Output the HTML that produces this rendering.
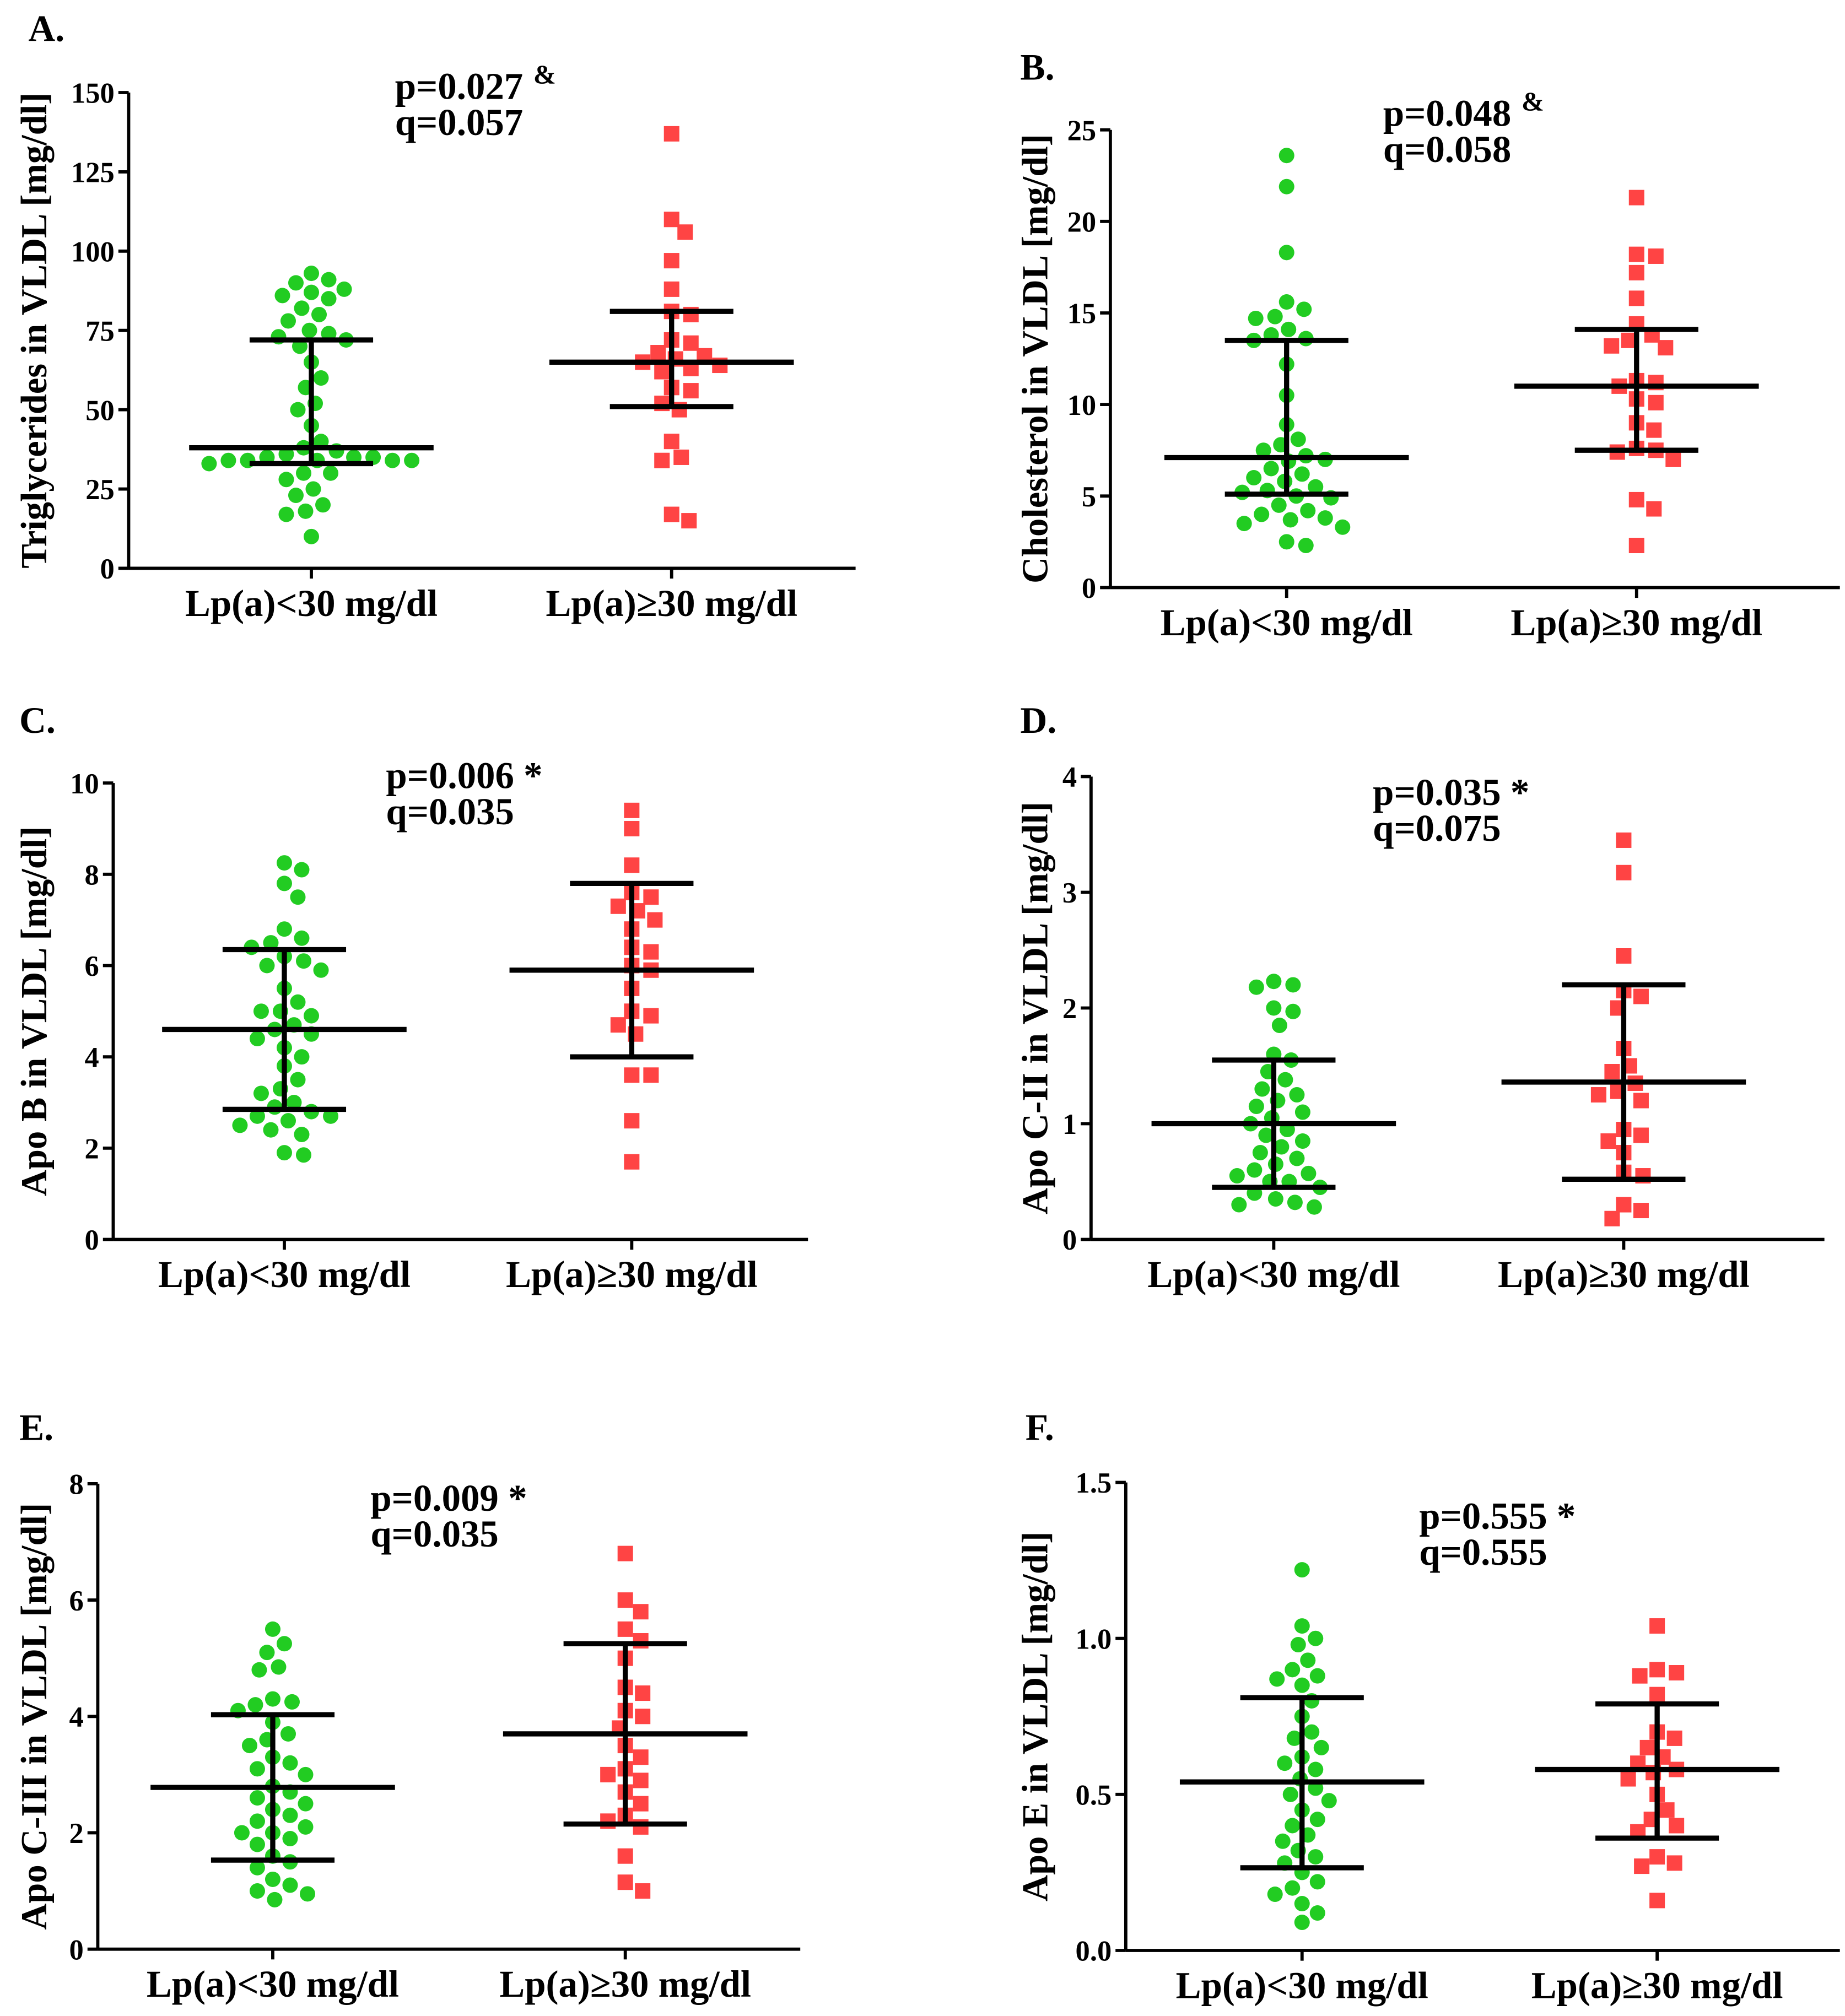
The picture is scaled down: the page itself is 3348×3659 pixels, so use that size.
<!DOCTYPE html>
<html><head><meta charset="utf-8">
<style>html,body{margin:0;padding:0;background:#fff}svg{display:block}text{font-family:"Liberation Serif",serif;font-weight:bold;fill:#000}</style>
</head><body>
<svg id="chart" width="3348" height="3659" viewBox="0 0 1434 1568" preserveAspectRatio="none" xmlns="http://www.w3.org/2000/svg"></svg>
<script>
const catLabels = ["Lp(a)<30 mg/dl", "Lp(a)\u226530 mg/dl"];
const aGreen = [93,91,90,88,87,86,85,82,80,78,75,74,73,72,70,65,60,57,52,50,45,40,38,37,36,35,35,35,34,34,34,34,34,33,30,30,28,25,23,20,18,17,10];
const aRed = [137,110,106,97,88,81,80,72,71,68,67,66,65,64,63,62,57,56,52,50,40,35,34,17,15];
const aStats = [[38,33,72],[65,51,81]];
const bGreen = [23.6,21.9,18.3,15.6,15.2,14.8,14.7,14.1,13.8,13.6,13.5,12.2,10.5,8.9,8.1,7.8,7.5,7.2,7.0,6.9,6.5,6.2,6.0,5.8,5.5,5.3,5.2,5.0,4.9,4.5,4.2,4.0,3.8,3.7,3.5,3.3,2.5,2.3];
const bRed = [21.3,18.2,18.1,17.2,15.8,14.4,13.8,13.5,13.2,13.1,11.3,11.2,11.0,10.3,10.1,9.0,8.6,7.6,7.5,7.4,7.0,4.8,4.3,2.3];
const bStats = [[7.1,5.1,13.5],[11,7.5,14.1]];
const cGreen = [8.25,8.1,7.8,7.5,6.8,6.6,6.5,6.4,6.2,6.1,6.0,5.9,5.5,5.2,5.0,5.0,4.9,4.7,4.6,4.5,4.4,4.2,4.0,3.8,3.5,3.3,3.2,3.0,2.9,2.8,2.7,2.7,2.6,2.5,2.4,2.3,1.9,1.85];
const cRed = [9.4,9.0,8.2,7.6,7.5,7.3,7.2,7.0,6.8,6.4,6.3,6.0,5.9,5.5,5.0,4.9,4.7,4.5,3.6,3.6,2.6,1.7];
const cStats = [[4.6,2.85,6.35],[5.9,4.0,7.8]];
const dGreen = [2.23,2.2,2.18,2.0,1.97,1.85,1.6,1.55,1.45,1.38,1.3,1.25,1.2,1.15,1.1,1.05,1.0,0.95,0.9,0.85,0.8,0.75,0.7,0.65,0.6,0.57,0.55,0.5,0.5,0.45,0.4,0.35,0.32,0.3,0.28];
const dRed = [3.45,3.17,2.45,2.15,2.1,2.0,1.65,1.5,1.45,1.35,1.28,1.25,1.2,0.95,0.9,0.85,0.75,0.58,0.55,0.3,0.25,0.18];
const dStats = [[1.0,0.45,1.55],[1.36,0.52,2.2]];
const eGreen = [5.5,5.25,5.1,4.85,4.8,4.3,4.25,4.2,4.1,3.9,3.7,3.6,3.5,3.3,3.2,3.1,3.0,2.8,2.7,2.6,2.5,2.4,2.3,2.2,2.1,2.0,2.0,1.9,1.8,1.6,1.5,1.4,1.2,1.1,1.0,0.95,0.85];
const eRed = [6.8,6.0,5.8,5.5,5.3,5.0,4.5,4.4,4.1,4.0,3.8,3.5,3.3,3.1,3.0,2.9,2.7,2.5,2.3,2.2,2.1,1.6,1.15,1.0];
const eStats = [[2.78,1.53,4.03],[3.7,2.15,5.25]];
const fGreen = [1.22,1.04,1.0,0.98,0.93,0.9,0.88,0.87,0.85,0.8,0.75,0.7,0.68,0.65,0.62,0.6,0.58,0.55,0.52,0.5,0.48,0.45,0.42,0.4,0.37,0.35,0.32,0.3,0.28,0.25,0.22,0.2,0.18,0.15,0.12,0.09];
const fRed = [1.04,0.9,0.89,0.88,0.82,0.7,0.68,0.65,0.62,0.6,0.58,0.57,0.55,0.5,0.45,0.42,0.4,0.38,0.3,0.28,0.27,0.16];
const fStats = [[0.54,0.265,0.81],[0.58,0.36,0.79]];
const aTicks = [0,25,50,75,100,125,150];
const bTicks = [0,5,10,15,20,25];
const cTicks = [0,2,4,6,8,10];
const dTicks = [0,1,2,3,4];
const eTicks = [0,2,4,6,8];
const fTicks = [0,0.5,1.0,1.5];
const fTickLabels = ["0.0","0.5","1.0","1.5"];

const NS = "http://www.w3.org/2000/svg";
const svg = document.getElementById('chart');
function mk(tag, attrs, parent, text) {
  const e = document.createElementNS(NS, tag);
  for (const k in attrs) e.setAttribute(k, attrs[k]);
  if (text !== undefined) e.textContent = text;
  parent.appendChild(e);
  return e;
}
function swarm(vals, cx, ys, d) {
  const placed = [];
  const out = [];
  vals.forEach(v => {
    const y = ys(v);
    let best = 0;
    for (let k = 0; k < 300; k++) {
      const off = (k % 2 ? 1 : -1) * Math.ceil(k / 2) * 1.5;
      if (placed.every(p => Math.hypot(p[0] - (cx + off), p[1] - y) >= d)) { best = off; break; }
    }
    placed.push([cx + best, y]);
    out.push([cx + best, y]);
  });
  return out;
}
const panels = [
  {id:'a', letter:'A.', lx:22, ly:32, ax:100, top:72, bot:442, right:665, max:150, ticks:aTicks, cx:[242,522], green:aGreen, red:aRed, stats:aStats, title:'Triglycerides in VLDL [mg/dl]', tx:36, p:'p=0.027', sup:'&', px:307, py:77, q:'q=0.057'},
  {id:'b', letter:'B.', lx:793, ly:62, ax:863, top:101, bot:457, right:1430, max:25, ticks:bTicks, cx:[1000,1272], green:bGreen, red:bRed, stats:bStats, title:'Cholesterol in VLDL [mg/dl]', tx:814, p:'p=0.048', sup:'&', px:1075, py:98, q:'q=0.058'},
  {id:'c', letter:'C.', lx:15, ly:570, ax:88, top:609, bot:964, right:628, max:10, ticks:cTicks, cx:[221,491], green:cGreen, red:cRed, stats:cStats, title:'Apo B in VLDL [mg/dl]', tx:36, p:'p=0.006 *', px:300, py:613, q:'q=0.035'},
  {id:'d', letter:'D.', lx:793, ly:570, ax:848, top:604, bot:964, right:1418, max:4, ticks:dTicks, cx:[990,1262], green:dGreen, red:dRed, stats:dStats, title:'Apo C-II in VLDL [mg/dl]', tx:814, p:'p=0.035 *', px:1067, py:626, q:'q=0.075'},
  {id:'e', letter:'E.', lx:15, ly:1120, ax:76, top:1154, bot:1516, right:622, max:8, ticks:eTicks, cx:[212,486], green:eGreen, red:eRed, stats:eStats, title:'Apo C-III in VLDL [mg/dl]', tx:36, p:'p=0.009 *', px:288, py:1175, q:'q=0.035'},
  {id:'f', letter:'F.', lx:797, ly:1120, ax:875, top:1153, bot:1517, right:1430, max:1.5, ticks:fTicks, tickLabels:fTickLabels, cx:[1012,1288], green:fGreen, red:fRed, stats:fStats, title:'Apo E in VLDL [mg/dl]', tx:814, p:'p=0.555 *', px:1103, py:1189, q:'q=0.555'}
];
panels.forEach(P => {
  const g = mk('g', {}, svg);
  
  
  const ys = v => P.bot - (v / P.max) * (P.bot - P.top);
  const L = mk('text', {x:P.lx, y:P.ly, 'font-size':29}, g, P.letter);
  
  
  const ya = mk('line', {x1:P.ax, y1:P.top, x2:P.ax, y2:P.bot, stroke:'#000', 'stroke-width':2.5}, g);
  
  
  const xa = mk('line', {x1:P.ax, y1:P.bot, x2:P.right, y2:P.bot, stroke:'#000', 'stroke-width':2.5}, g);
  
  
  P.ticks.forEach((t, i) => {
    const y = ys(t);
    const tl = mk('line', {x1:P.ax - 8, y1:y, x2:P.ax, y2:y, stroke:'#000', 'stroke-width':2.5}, g);
    
    
    const tt = mk('text', {x:P.ax - 11, y:y + 8, 'font-size':22.5, 'text-anchor':'end'}, g, P.tickLabels ? P.tickLabels[i] : String(t));
    
    
  });
  P.cx.forEach((cx, i) => {
    const tl = mk('line', {x1:cx, y1:P.bot, x2:cx, y2:P.bot + 8, stroke:'#000', 'stroke-width':2.5}, g);
    
    
    const ct = mk('text', {x:cx, y:P.bot + 37, 'font-size':29.5, 'text-anchor':'middle'}, g, catLabels[i]);
    
    
  });
  const cy = (P.top + P.bot) / 2;
  const yt = mk('text', {x:P.tx, y:cy, 'font-size':28.5, 'text-anchor':'middle', transform:`rotate(-90 ${P.tx} ${cy})`}, g, P.title);
  
  
  const pt = mk('text', {x:P.px, y:P.py, 'font-size':29.5}, g, P.p);
  
  
  if (P.sup) { mk('tspan', {dx:8, dy:-12, 'font-size':21}, pt, P.sup); }
  const qt = mk('text', {x:P.px, y:P.py + 28, 'font-size':29.5}, g, P.q);
  
  
  swarm(P.green, P.cx[0], ys, 14).forEach(p => {
    const c = mk('circle', {cx:p[0], cy:p[1], r:6, fill:'#22cc22'}, g);
    
    
  });
  swarm(P.red, P.cx[1], ys, 14).forEach(p => {
    const r = mk('rect', {x:p[0] - 6, y:p[1] - 6, width:12, height:12, fill:'#ff4444'}, g);
    
    
  });
  P.stats.forEach((s, i) => {
    const cx = P.cx[i];
    const eb = mk('g', {stroke:'#000', 'stroke-width':4}, g);
    
    
    mk('line', {x1:cx - 95, y1:ys(s[0]), x2:cx + 95, y2:ys(s[0])}, eb);
    mk('line', {x1:cx - 48, y1:ys(s[1]), x2:cx + 48, y2:ys(s[1])}, eb);
    mk('line', {x1:cx - 48, y1:ys(s[2]), x2:cx + 48, y2:ys(s[2])}, eb);
    mk('line', {x1:cx, y1:ys(s[1]), x2:cx, y2:ys(s[2])}, eb);
  });
});
</script>
</body></html>
